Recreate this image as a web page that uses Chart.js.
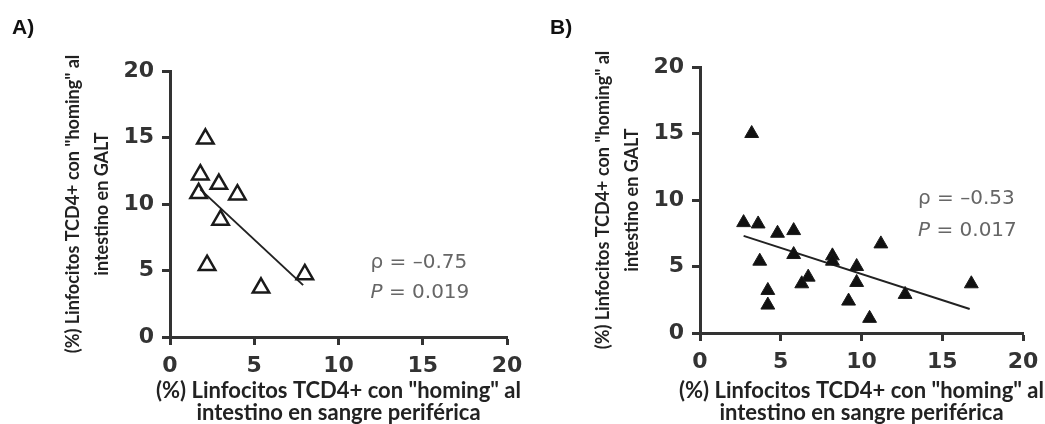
<!DOCTYPE html>
<html lang="es">
<head>
<meta charset="UTF-8">
<title>Linfocitos TCD4+ con homing al intestino</title>
<script src="https://cdn.jsdelivr.net/npm/chart.js"></script>
<style>
  body { margin: 0; background: #fff; font-family: "Liberation Sans", Arial, sans-serif; }
  .page { position: relative; width: 1045px; height: 424px; overflow: hidden; }
  .page canvas { position: absolute; top: 0; }
  #chartA { left: 0; }
  #chartB { left: 520px; }
  .panel-label { position: absolute; top: 15px; font-weight: bold; font-size: 21px; color: #111; }
</style>
</head>
<body>
<div class="page">
  <canvas id="chartA" width="545" height="424"></canvas>
  <canvas id="chartB" width="525" height="424"></canvas>
  <div class="panel-label" style="left:12px">A)</div>
  <div class="panel-label" style="left:550px">B)</div>
</div>
<script>
// A) open triangles
const xA = [2.1, 1.8, 1.7, 2.9, 4.0, 3.0, 2.2, 5.4, 8.0];
const yA = [14.9, 12.2, 10.8, 11.5, 10.7, 8.8, 5.4, 3.7, 4.7];
const fitXA = [1.8, 7.9];
const fitYA = [11.1, 3.9];

// B) filled triangles
const xB = [3.2, 2.7, 3.6, 4.8, 5.8, 3.7, 5.8, 8.2, 8.2, 9.7, 11.2, 6.7, 6.3, 9.7, 4.2, 4.2, 9.2, 12.7, 10.5, 16.8];
const yB = [15.0, 8.3, 8.2, 7.5, 7.7, 5.4, 5.9, 5.8, 5.4, 5.0, 6.7, 4.2, 3.7, 3.8, 3.2, 2.1, 2.4, 2.9, 1.1, 3.7];
const fitXB = [2.7, 16.7];
const fitYB = [7.3, 1.8];

const tickValues = [0, 5, 10, 15, 20];

const titleY = ['(%) Linfocitos TCD4+ con "homing" al', 'intestino en GALT'];
const titleX = ['(%) Linfocitos TCD4+ con "homing" al', 'intestino en sangre periférica'];

const toPoints = (xs, ys) => xs.map((x, i) => ({ x: x, y: ys[i] }));

// rho / P text drawn at data coordinates
const statsText = {
  id: 'statsText',
  afterDatasetsDraw(chart, args, opts) {
    const { ctx, scales: { x, y } } = chart;
    const px = x.getPixelForValue(opts.x);
    const size = 20;
    ctx.save();
    ctx.fillStyle = '#666';
    ctx.textBaseline = 'middle';
    ctx.font = size + 'px "DejaVu Sans"';
    ctx.fillText('\u03c1 = \u2013' + opts.rho, px, y.getPixelForValue(opts.yRho));
    const yP = y.getPixelForValue(opts.yP);
    ctx.font = 'italic ' + size + 'px "DejaVu Sans"';
    ctx.fillText('P', px, yP);
    const w = ctx.measureText('P').width;
    ctx.font = size + 'px "DejaVu Sans"';
    ctx.fillText(' = ' + opts.p, px + w, yP);
    ctx.restore();
  }
};

// two-line axis titles; the built-in title squeezes text to the axis length
const axisTitles = {
  id: 'axisTitles',
  afterDraw(chart, args, opts) {
    const { ctx, chartArea: a } = chart;
    ctx.save();
    ctx.fillStyle = '#222';
    ctx.textAlign = 'center';
    ctx.textBaseline = 'middle';
    ctx.font = 'bold 22px Lato';
    const cx = (a.left + a.right) / 2;
    titleX.forEach((t, i) => ctx.fillText(t, cx, opts.xLine + i * 22));
    ctx.translate(opts.yLine, (a.top + a.bottom) / 2);
    ctx.rotate(-Math.PI / 2);
    ctx.font = 'bold 18px Lato';
    titleY.forEach((t, i) => ctx.fillText(t, 0, i * 29));
    ctx.restore();
  }
};

function axis(isX, boxSize) {
  return {
    type: 'linear',
    min: 0,
    max: 20,
    afterBuildTicks: s => { s.ticks = tickValues.map(v => ({ value: v })); },
    afterFit: s => {
      if (isX) s.height = boxSize; else s.width = boxSize;
      s.paddingTop = s.paddingBottom = s.paddingLeft = s.paddingRight = 0;
    },
    border: { display: true, color: '#333', width: 3 },
    grid: { drawOnChartArea: false, drawTicks: true, tickLength: 8, tickWidth: 3, color: '#333' },
    ticks: {
      color: '#333',
      padding: 8,
      font: { family: 'DejaVu Sans', weight: 'bold', size: 22 }
    },
    title: { display: false }
  };
}

function makeChart(id, cfg) {
  return new Chart(document.getElementById(id), {
    type: 'scatter',
    data: {
      datasets: [
        {
          data: cfg.points,
          pointStyle: 'triangle',
          pointRadius: cfg.radius,
          borderColor: '#1a1a1a',
          backgroundColor: cfg.fill,
          borderWidth: cfg.markerBorder
        },
        {
          data: cfg.fit,
          showLine: true,
          pointRadius: 0,
          borderColor: '#222',
          borderWidth: 2
        }
      ]
    },
    options: {
      responsive: false,
      animation: false,
      layout: { padding: cfg.padding },
      plugins: {
        legend: { display: false },
        tooltip: { enabled: false },
        statsText: cfg.stats,
        axisTitles: cfg.titles
      },
      scales: {
        x: axis(true, cfg.xHeight),
        y: axis(false, cfg.yWidth)
      }
    },
    plugins: [statsText, axisTitles]
  });
}

makeChart('chartA', {
  points: toPoints(xA, yA),
  fit: toPoints(fitXA, fitYA),
  radius: 9.5,
  fill: 'rgba(0,0,0,0)',
  markerBorder: 2.5,
  padding: { top: 71, right: 38, left: 0, bottom: 0 },
  xHeight: 87,
  yWidth: 170,
  titles: { xLine: 391, yLine: 73 },
  stats: { x: 11.9, yRho: 5.6, yP: 3.3, rho: '0.75', p: '0.019' }
});

makeChart('chartB', {
  points: toPoints(xB, yB),
  fit: toPoints(fitXB, fitYB),
  radius: 8,
  fill: '#111',
  markerBorder: 1,
  padding: { top: 67, right: 22, left: 0, bottom: 0 },
  xHeight: 91,
  yWidth: 180,
  titles: { xLine: 391, yLine: 83 },
  stats: { x: 13.5, yRho: 10.1, yP: 7.7, rho: '0.53', p: '0.017' }
});
</script>
</body>
</html>
